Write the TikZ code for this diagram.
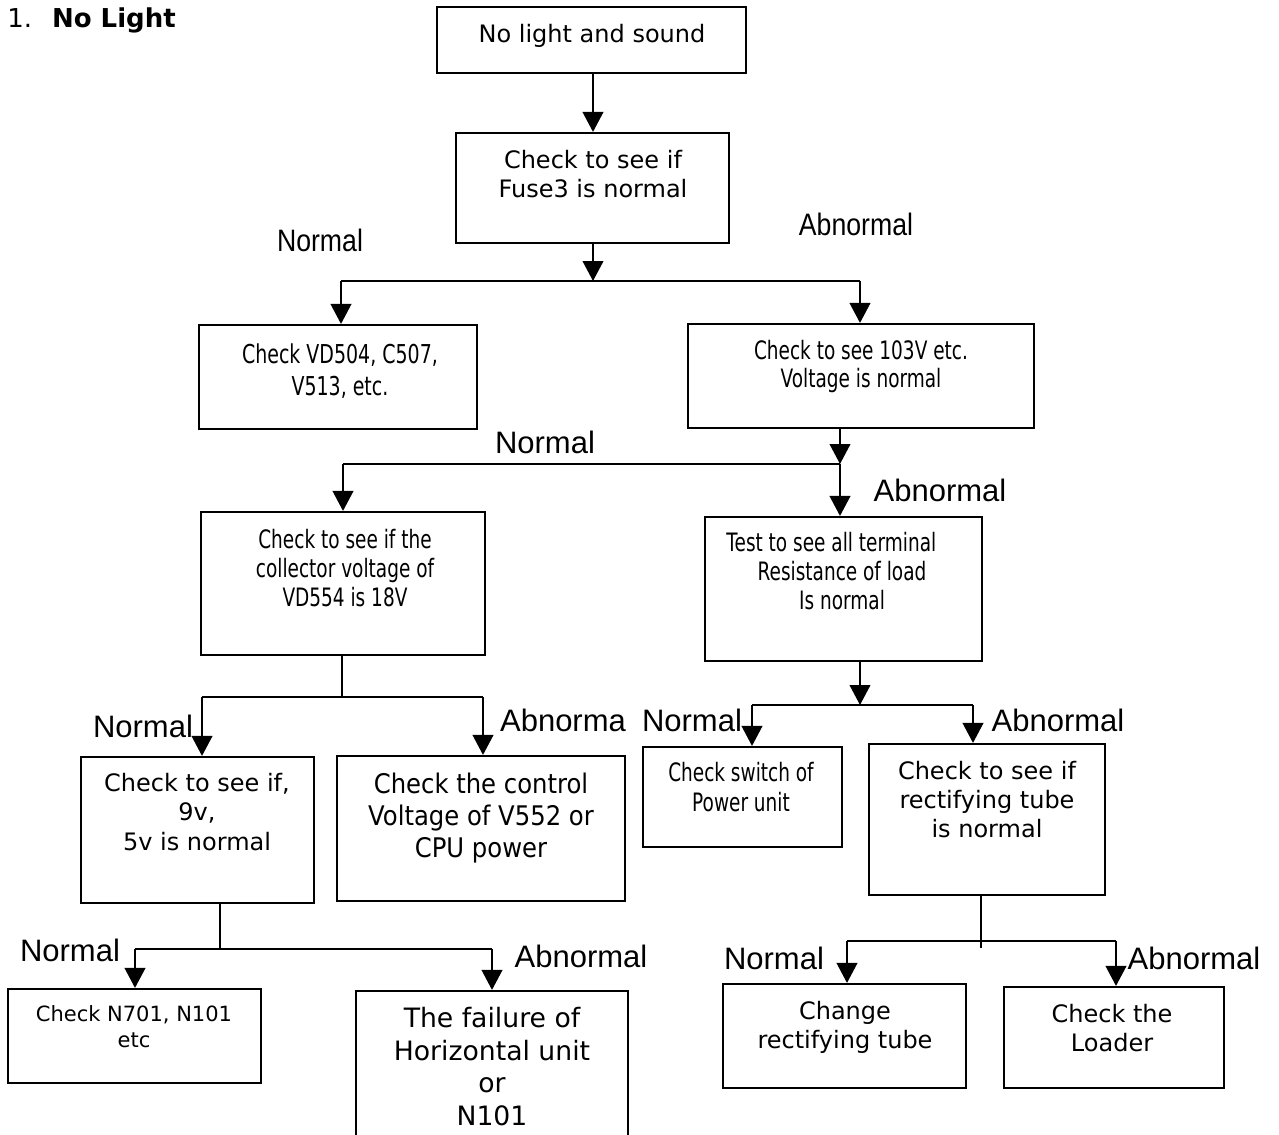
\documentclass[tikz,border=0pt]{standalone}
\usepackage{fontspec}
\setmainfont{DejaVu Sans}
\newfontfamily\condf[FakeStretch=0.73]{DejaVu Sans}
\newfontfamily\condg[FakeStretch=0.9]{DejaVu Sans}
\newfontfamily\arl{Liberation Sans}
\newfontfamily\arlc[FakeStretch=0.86]{Liberation Sans}
\usetikzlibrary{arrows.meta,fit}
\newcommand\fsz[2]{\fontsize{#1}{#2}\selectfont}
\begin{document}
\begin{tikzpicture}[x=0.75pt,y=-0.75pt,
  box/.style={draw, line width=1.6pt, inner sep=0pt, rectangle},
  ln/.style={line width=1.4pt},
  arr/.style={ln, -{Triangle[length=15pt,width=15.5pt]}},
  txt/.style={align=center, inner sep=0pt, anchor=base},
  lab/.style={inner sep=0pt, anchor=center, font=\arl\fsz{23.25}{26}},
  labc/.style={inner sep=0pt, anchor=center, font=\arlc\fsz{23.25}{26}}]
\useasboundingbox (0,0) rectangle (1279,1135);
\clip (0,0) rectangle (1279,1135);

% title
\node[inner sep=0pt, anchor=base west, font=\fsz{19.5}{23}] (title) at (7,27) {1.\hspace{15pt}\textbf{No Light}};

% boxes
\node[box, fit={(437,7) (746,73)}] (b1) {};
\node[box, fit={(456,133) (729,243)}] (b2) {};
\node[box, fit={(199,325) (477,429)}] (b3) {};
\node[box, fit={(688,324) (1034,428)}] (b4) {};
\node[box, fit={(201,512) (485,655)}] (b5) {};
\node[box, fit={(705,517) (982,661)}] (b6) {};
\node[box, fit={(81,757) (314,903)}] (b7) {};
\node[box, fit={(337,756) (625,901)}] (b8) {};
\node[box, fit={(643,747) (842,847)}] (b9) {};
\node[box, fit={(869,744) (1105,895)}] (b10) {};
\node[box, fit={(8,989) (261,1083)}] (b11) {};
\node[box, fit={(356,991) (628,1150)}] (b12) {};
\node[box, fit={(723,984) (966,1088)}] (b13) {};
\node[box, fit={(1004,987) (1224,1088)}] (b14) {};

% box texts (anchor = baseline of the last line)
\node[txt, font=\fsz{18}{21.75}] (t1) at (592,42) {No light and sound};
\node[txt, font=\fsz{18}{21.75}] (t2) at (593,197) {Check to see if\\Fuse3 is normal};
\node[txt, font=\condf\fsz{19.5}{24}] (t3) at (340,395) {Check VD504, C507,\\V513, etc.};
\node[txt, font=\condf\fsz{19}{21}] (t4) at (861,387) {Check to see 103V etc.\\Voltage is normal};
\node[txt, font=\condf\fsz{19}{21.75}] (t5) at (345,606) {Check to see if the\\collector voltage of\\VD554 is 18V};
\node[txt, font=\condf\fsz{19}{21.4}] (t6) at (842,609) {Test to see all terminal\kern 16pt\\Resistance of load\\Is normal};
\node[txt, font=\fsz{18}{22.1}] (t7) at (197,850) {Check to see if,\\9v,\\5v is normal};
\node[txt, font=\condg\fsz{20.25}{24}] (t8) at (481,857) {Check the control\\Voltage of V552 or\\CPU power};
\node[txt, font=\condf\fsz{19}{22.5}] (t9) at (741,811) {Check switch of\\Power unit};
\node[txt, font=\fsz{18}{21.4}] (t10) at (987,837) {Check to see if\\rectifying tube\\is normal};
\node[txt, font=\fsz{15.75}{19.5}] (t11) at (134,1047) {Check N701, N101\\etc};
\node[txt, font=\fsz{20}{24.4}] (t12) at (492,1125.5) {The failure of\\Horizontal unit\\or\\N101};
\node[txt, font=\fsz{18}{21.4}] (t13) at (845,1048.5) {Change\\rectifying tube};
\node[txt, font=\fsz{18}{21.75}] (t14) at (1112,1051) {Check the\\Loader};

% junction coordinates
\coordinate (j1) at (593,281);
\coordinate (j1l) at (341,281);
\coordinate (j1r) at (860,281);
\coordinate (j2) at (840,464);
\coordinate (j2l) at (343,464);
\coordinate (j3) at (342,697);
\coordinate (j3l) at (202,697);
\coordinate (j3r) at (483,697);
\coordinate (j4) at (860,705);
\coordinate (j4l) at (752,705);
\coordinate (j4r) at (973,705);
\coordinate (j5) at (220,949);
\coordinate (j5l) at (135,949);
\coordinate (j5r) at (492,949);
\coordinate (j6) at (981,941);
\coordinate (j6b) at (981,948);
\coordinate (j6l) at (847,941);
\coordinate (j6r) at (1116,941);

% connectors
\draw[arr] (j1 |- b1.south) -- (j1 |- b2.north);
\draw[arr] (j1 |- b2.south) -- (j1);
\draw[ln] (j1l) -- (j1r);
\draw[arr] (j1l) -- (j1l |- b3.north);
\draw[arr] (j1r) -- (j1r |- b4.north);

\draw[arr] (j2 |- b4.south) -- (j2);
\draw[ln] (j2l) -- (j2);
\draw[arr] (j2l) -- (j2l |- b5.north);
\draw[arr] (j2) -- (j2 |- b6.north);

\draw[ln] (j3 |- b5.south) -- (j3);
\draw[ln] (j3l) -- (j3r);
\draw[arr] (j3l) -- (j3l |- b7.north);
\draw[arr] (j3r) -- (j3r |- b8.north);

\draw[arr] (j4 |- b6.south) -- (j4);
\draw[ln] (j4l) -- (j4r);
\draw[arr] (j4l) -- (j4l |- b9.north);
\draw[arr] (j4r) -- (j4r |- b10.north);

\draw[ln] (j5 |- b7.south) -- (j5);
\draw[ln] (j5l) -- (j5r);
\draw[arr] (j5l) -- (j5l |- b11.north);
\draw[arr] (j5r) -- (j5r |- b12.north);

\draw[ln] (j6 |- b10.south) -- (j6b);
\draw[ln] (j6l) -- (j6r);
\draw[arr] (j6l) -- (j6l |- b13.north);
\draw[arr] (j6r) -- (j6r |- b14.north);

% branch labels
\node[labc] (l1) at (320,240) {Normal};
\node[labc] (l2) at (856,224) {Abnormal};
\node[lab] (l3) at (545,442) {Normal};
\node[lab] (l4) at (940,490) {Abnormal};
\node[lab] (l5) at (143,726) {Normal};
\node[lab] (l6) at (563,720) {Abnorma};
\node[lab] (l7) at (692,720) {Normal};
\node[lab] (l8) at (1058,720) {Abnormal};
\node[lab] (l9) at (70,950) {Normal};
\node[lab] (l10) at (581,956) {Abnormal};
\node[lab] (l11) at (774,958) {Normal};
\node[lab] (l12) at (1194,958) {Abnormal};
\end{tikzpicture}
\end{document}
